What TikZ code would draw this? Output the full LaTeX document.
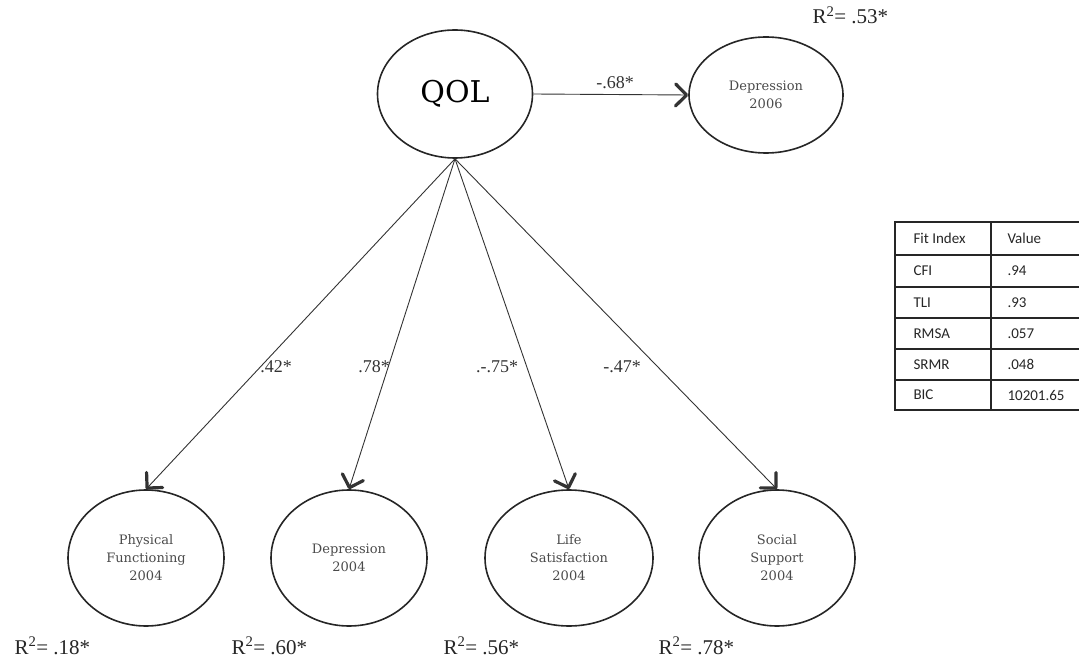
\documentclass[tikz,border=0pt]{standalone}
\usepackage{fontspec}
\setmainfont{Liberation Serif}
\newfontfamily\latfont{DejaVu Serif}
\newfontfamily\tabfont{Carlito}
\usetikzlibrary{arrows.meta,shapes.geometric}
\definecolor{lblgray}{HTML}{4A4A4A}
\begin{document}
\begin{tikzpicture}[x=1pt,y=-1pt,
  latent/.style={draw=black!85,line width=1.6pt,ellipse,inner sep=0pt},
  small/.style={latent,minimum width=156pt,minimum height=136pt,
    font=\latfont\fontsize{13}{18}\selectfont,text=lblgray,align=center},
  path arrow/.style={draw=black!80,line width=0.9pt,
    -{Straight Barb[length=11pt,width=22pt,line width=3.2pt 0,round]}},
  coef/.style={font=\fontsize{18}{20}\selectfont,text=black!80},
  rsq/.style={font=\fontsize{21}{24}\selectfont,text=black!85,anchor=base west},
  tabtxt/.style={font=\tabfont\fontsize{15}{17}\selectfont,text=black!85,anchor=west}]
\useasboundingbox (0,0) rectangle (1079,663);

% latent construct and outcome
\node[latent,minimum width=155pt,minimum height=128pt,
  font=\latfont\fontsize{30}{34}\selectfont] (qol) at (455,94) {QOL};
\node[small,minimum width=154pt,minimum height=116pt] (dep06) at (766,95) {Depression\\2006};

% indicators
\node[small] (pf)  at (146,558) {Physical\\Functioning\\2004};
\node[small] (dep04) at (349,558) {Depression\\2004};
\node[small,minimum width=168pt] (ls) at (569,558) {Life\\Satisfaction\\2004};
\node[small] (ss)  at (777,558) {Social\\Support\\2004};

% paths
\draw[path arrow] (qol.east) -- (dep06.west);
\draw[path arrow] (qol.south) -- (pf.north);
\draw[path arrow] (qol.south) -- (dep04.north);
\draw[path arrow] (qol.south) -- (ls.north);
\draw[path arrow] (qol.south) -- (ss.north);

% coefficients
\node[coef] (c68) at (615,83) {-.68*};
\node[coef] (c42) at (276,367) {.42*};
\node[coef] (c78) at (374,367) {.78*};
\node[coef] (c75) at (497,367) {.-.75*};
\node[coef] (c47) at (622,367) {-.47*};

% explained variance
\node[rsq] (r06) at (809,24) {R\textsuperscript{2}= .53*};
\node[rsq] (rpf) at (11,654) {R\textsuperscript{2}= .18*};
\node[rsq] (rd4) at (228,654) {R\textsuperscript{2}= .60*};
\node[rsq] (rls) at (440,654) {R\textsuperscript{2}= .56*};
\node[rsq] (rss) at (655,654) {R\textsuperscript{2}= .78*};

% fit index table
\begin{scope}[line width=1.5pt,draw=black!85]
  \draw (1080,222) -- (895,222) -- (895,410) -- (1080,410);
  \draw (991,222) -- (991,410);
  \foreach \y in {255,287,318,349,380} \draw (895,\y) -- (1080,\y);
\end{scope}
\node[tabtxt] (h1) at (910,238.5) {Fit Index};
\node[tabtxt] (h2) at (1004,238.5) {Value};
\node[tabtxt] (a1) at (910,271) {CFI};
\node[tabtxt] (a2) at (1004,271) {.94};
\node[tabtxt] (b1) at (910,302.5) {TLI};
\node[tabtxt] (b2) at (1004,302.5) {.93};
\node[tabtxt] (d1) at (910,333.5) {RMSA};
\node[tabtxt] (d2) at (1004,333.5) {.057};
\node[tabtxt] (e1) at (910,364.5) {SRMR};
\node[tabtxt] (e2) at (1004,364.5) {.048};
\node[tabtxt] (f1) at (910,395) {BIC};
\node[tabtxt] (f2) at (1004,395) {10201.65};
\end{tikzpicture}
\end{document}
